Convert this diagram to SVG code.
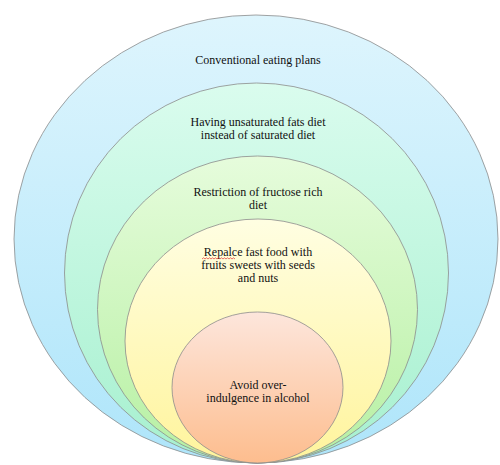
<svg xmlns="http://www.w3.org/2000/svg" width="500" height="465" viewBox="0 0 500 465">
  <defs>
    <linearGradient id="g1" x1="0" y1="0" x2="0" y2="1">
      <stop offset="0" stop-color="#def5fd"/>
      <stop offset="1" stop-color="#aee5fa"/>
    </linearGradient>
    <linearGradient id="g2" x1="0" y1="0" x2="0" y2="1">
      <stop offset="0" stop-color="#dafcee"/>
      <stop offset="1" stop-color="#a6f0cf"/>
    </linearGradient>
    <linearGradient id="g3" x1="0" y1="0" x2="0" y2="1">
      <stop offset="0" stop-color="#e6fcdc"/>
      <stop offset="1" stop-color="#b6f0a2"/>
    </linearGradient>
    <linearGradient id="g4" x1="0" y1="0" x2="0" y2="1">
      <stop offset="0" stop-color="#fffee2"/>
      <stop offset="1" stop-color="#fff49c"/>
    </linearGradient>
    <linearGradient id="g5" x1="0" y1="0" x2="0" y2="1">
      <stop offset="0" stop-color="#fde6dc"/>
      <stop offset="1" stop-color="#fdbd8e"/>
    </linearGradient>
  </defs>
  <style>
    .ring { stroke: #8c8c8c; stroke-width: 0.8; }
    .t { font-family: 'Liberation Serif', 'Times New Roman', 'DejaVu Serif', serif; font-size: 12px; fill: #111; text-anchor: middle; }
  </style>
  <rect width="500" height="465" fill="#ffffff"/>
  <g id="node1">
    <ellipse class="ring" cx="256" cy="239" rx="242" ry="224" fill="url(#g1)"/>
    <text class="t" font-family="Liberation Serif, serif" x="258" y="64">Conventional eating plans</text>
  </g>
  <g id="node2">
    <ellipse class="ring" cx="256.5" cy="273" rx="192" ry="190" fill="url(#g2)"/>
    <text class="t" font-family="Liberation Serif, serif" x="258" y="126">Having unsaturated fats diet</text>
    <text class="t" font-family="Liberation Serif, serif" x="258" y="139">instead of saturated diet</text>
  </g>
  <g id="node3">
    <ellipse class="ring" cx="257.5" cy="309.5" rx="160" ry="153.5" fill="url(#g3)"/>
    <text class="t" font-family="Liberation Serif, serif" x="258" y="196">Restriction of fructose rich</text>
    <text class="t" font-family="Liberation Serif, serif" x="258" y="209">diet</text>
  </g>
  <g id="node4">
    <ellipse class="ring" cx="258" cy="341" rx="133" ry="122" fill="url(#g4)"/>
    <text class="t" font-family="Liberation Serif, serif" x="258" y="256">Repalce fast food with</text>
    <text class="t" font-family="Liberation Serif, serif" x="258" y="269">fruits sweets with seeds</text>
    <text class="t" font-family="Liberation Serif, serif" x="258" y="282">and nuts</text>
    <path d="M202,259 l1.5,-1.2 l1.5,1.2 l1.5,-1.2 l1.5,1.2 l1.5,-1.2 l1.5,1.2 l1.5,-1.2 l1.5,1.2 l1.5,-1.2 l1.5,1.2 l1.5,-1.2 l1.5,1.2 l1.5,-1.2 l1.5,1.2 l1.5,-1.2 l1.5,1.2 l1.5,-1.2 l1.5,1.2 l1.5,-1.2 l1.5,1.2 l1.5,-1.2 l1.5,1.2" fill="none" stroke="#e03030" stroke-width="0.7"/>
  </g>
  <g id="node5">
    <ellipse class="ring" cx="257.5" cy="387.5" rx="85.5" ry="75.5" fill="url(#g5)"/>
    <text class="t" font-family="Liberation Serif, serif" x="258" y="389">Avoid over-</text>
    <text class="t" font-family="Liberation Serif, serif" x="258" y="402">indulgence in alcohol</text>
  </g>
  <g id="connectors"/>
</svg>
